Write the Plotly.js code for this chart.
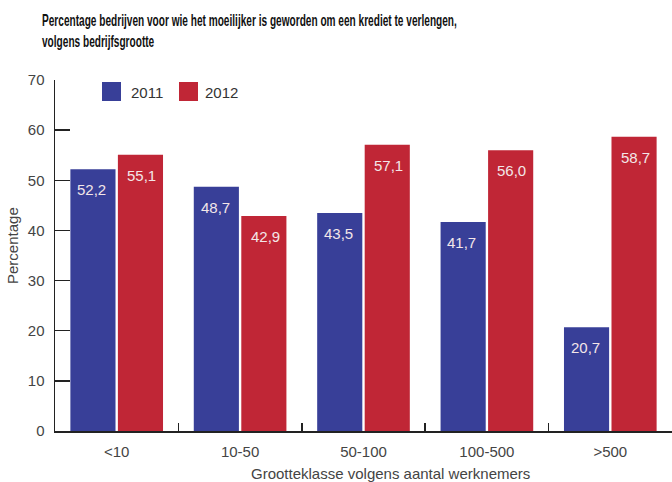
<!DOCTYPE html>
<html>
<head>
<meta charset="utf-8">
<script src="https://cdn.plot.ly/plotly-3.0.1.min.js"></script>
<style>html,body{margin:0;padding:0;background:#fff;}#chart{width:672px;height:482px;}</style>
</head>
<body>
<div id="chart"></div>
<script>
const categories = ["<10", "10-50", "50-100", "100-500", ">500"];
const series2011 = [52.2, 48.7, 43.5, 41.7, 20.7];
const series2012 = [55.1, 42.9, 57.1, 56.0, 58.7];
const seriesNames = ["2011", "2012"];
const yTicks = [0, 10, 20, 30, 40, 50, 60, 70];

const blue = "#383f98";
const red = "#c02636";
const FONT = "Liberation Sans, Arial, sans-serif";
const fmt = v => v.toFixed(1).replace(".", ",");

const traces = [
  {type: "bar", name: seriesNames[0], x: categories, y: series2011, marker: {color: blue}, hoverinfo: "none"},
  {type: "bar", name: seriesNames[1], x: categories, y: series2012, marker: {color: red}, hoverinfo: "none"}
];

const annotations = [];
[series2011, series2012].forEach((s, si) => {
  s.forEach((v, i) => {
    annotations.push({
      x: categories[i], y: v, xref: "x", yref: "y",
      text: fmt(v), showarrow: false,
      xshift: si === 0 ? -25 : 25, yshift: -10,
      yanchor: "top", xanchor: "center",
      font: {family: FONT, size: 15, color: "#f3e6e8"}
    });
  });
});

// legend drawn manually
const W = 617, H = 351, L = 55, T = 80;
const px = x => (x - L) / W;
const py = y => (T + H - y) / H;
const shapes = [
  {type: "rect", xref: "paper", yref: "paper", x0: px(102), x1: px(121), y0: py(101), y1: py(82), fillcolor: blue, line: {width: 0}},
  {type: "rect", xref: "paper", yref: "paper", x0: px(179), x1: px(198), y0: py(101), y1: py(82), fillcolor: red, line: {width: 0}}
];
annotations.push({xref: "paper", yref: "paper", x: px(129), y: py(92), xanchor: "left", yanchor: "middle", text: seriesNames[0], showarrow: false, font: {family: FONT, size: 15, color: "#333"}});
annotations.push({xref: "paper", yref: "paper", x: px(203), y: py(92), xanchor: "left", yanchor: "middle", text: seriesNames[1], showarrow: false, font: {family: FONT, size: 15, color: "#333"}});

// axis titles
annotations.push({xref: "paper", yref: "paper", x: px(390), y: py(473), xanchor: "center", yanchor: "middle", text: "Grootteklasse volgens aantal werknemers", showarrow: false, font: {family: FONT, size: 15, color: "#444"}});
annotations.push({xref: "paper", yref: "paper", x: px(13), y: py(246), xanchor: "center", yanchor: "middle", textangle: -90, text: "Percentage", showarrow: false, font: {family: FONT, size: 15, color: "#444"}});

const TITLE_X = 42;
const layout = {
  width: 672, height: 482,
  margin: {l: 55, r: 0, t: 80, b: 51, pad: 0},
  paper_bgcolor: "#fff", plot_bgcolor: "#fff",
  showlegend: false,
  barmode: "group", bargap: 0.23, bargroupgap: 0.05,
  title: {
    text: "<b>Percentage bedrijven voor wie het moeilijker is geworden om een krediet te verlengen,<br>volgens bedrijfsgrootte</b>",
    x: TITLE_X / 672, xanchor: "left", xref: "container",
    y: 1 - 26 / 482, yanchor: "top", yref: "container",
    font: {family: FONT, size: 16, color: "#111"}
  },
  font: {family: FONT, size: 15, color: "#444"},
  xaxis: {
    type: "category", showline: true, linecolor: "#222", linewidth: 1.5,
    ticks: "inside", tickson: "boundaries", ticklen: 8, tickwidth: 1.5, tickcolor: "#222",
    showgrid: false, zeroline: false, ticklabelstandoff: 6,
    tickfont: {size: 15, color: "#444"}
  },
  yaxis: {
    range: [0, 70], tickvals: yTicks, showline: true, linecolor: "#222", linewidth: 1.5,
    ticks: "inside", ticklen: 15, tickwidth: 1.5, tickcolor: "#222",
    showgrid: false, zeroline: false, ticklabelstandoff: 6,
    tickfont: {size: 15, color: "#444"}
  },
  shapes: shapes,
  annotations: annotations
};

Plotly.newPlot("chart", traces, layout, {staticPlot: true, displayModeBar: false}).then(() => {
  // condense the title horizontally (the original uses a condensed typeface)
  const t = document.querySelector(".gtitle");
  if (t) {
    const bb = t.getBBox();
    const s = 415 / bb.width;
    t.setAttribute("transform", "translate(" + (TITLE_X * (1 - s)) + ",0) scale(" + s + ",1)");
  }
});
</script>
</body>
</html>
